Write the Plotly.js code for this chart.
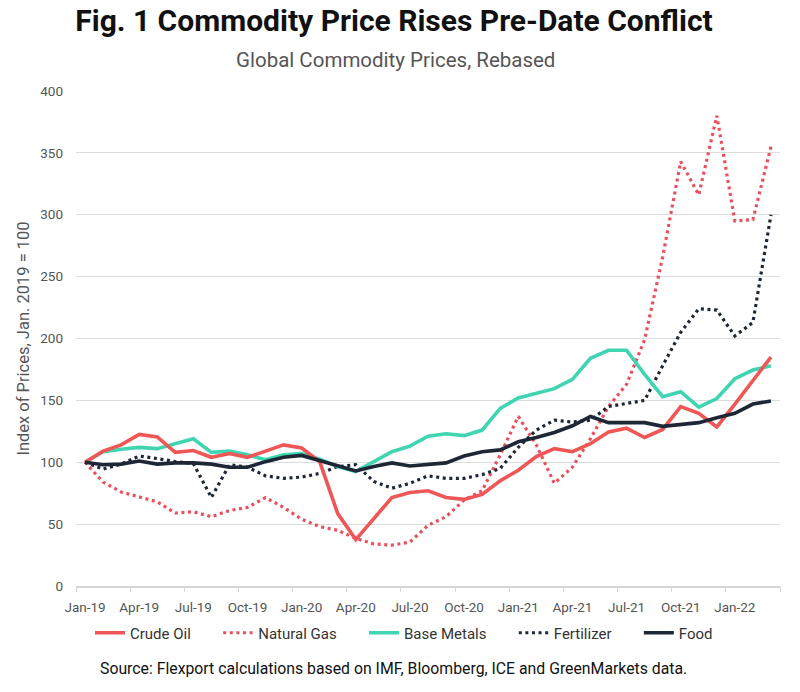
<!DOCTYPE html>
<html>
<head>
<meta charset="utf-8">
<script src="https://cdn.plot.ly/plotly-3.0.1.min.js"></script>
<style>
  html, body { margin: 0; padding: 0; background: #ffffff; }
  #chart { width: 800px; height: 692px; }
</style>
</head>
<body>
<div id="chart"></div>
<script>
// Monthly observations, Jan-19 through Mar-22
const months = [
  "Jan-19","Feb-19","Mar-19","Apr-19","May-19","Jun-19","Jul-19","Aug-19","Sep-19","Oct-19","Nov-19","Dec-19",
  "Jan-20","Feb-20","Mar-20","Apr-20","May-20","Jun-20","Jul-20","Aug-20","Sep-20","Oct-20","Nov-20","Dec-20",
  "Jan-21","Feb-21","Mar-21","Apr-21","May-21","Jun-21","Jul-21","Aug-21","Sep-21","Oct-21","Nov-21","Dec-21",
  "Jan-22","Feb-22","Mar-22"
];

// Index of prices, Jan. 2019 = 100
const crudeOil = [
  100, 109, 114, 122.5, 120.5, 108, 109.5, 104, 107, 104, 109, 114,
  111.5, 100.5, 58.5, 37.5, 54.5, 71.5, 75.5, 77, 71.5, 70, 74, 85,
  93.5, 104.5, 111, 108.5, 115, 124.5, 127.5, 120, 126.5, 145, 139.5, 128.5,
  147, 166, 185
];
const naturalGas = [
  100, 84, 76, 72, 68, 59, 60, 56, 61, 63.5, 71.5, 63.5,
  54, 48, 45, 38.5, 34, 33, 35.5, 49, 56, 69.5, 77, 106,
  137, 114, 83, 96, 119, 145, 163, 199, 266, 343, 316, 380,
  295, 296, 355
];
const baseMetals = [
  100, 108.5, 110.5, 112, 111, 115, 119, 108, 109, 106, 102, 106,
  107, 102.5, 96.5, 92.5, 100.5, 108.5, 113, 121, 123, 121.5, 126, 143.5,
  152, 156, 159.5, 167, 184, 190.5, 190.5, 171, 153, 157, 144.5, 151.5,
  167.5, 174.5, 178
];
const fertilizer = [
  100, 94.5, 98.5, 105, 103, 100.5, 99, 71.5, 98, 96, 89, 87,
  88, 91, 96.5, 98, 84.5, 79, 83, 89, 87, 87, 90, 95,
  112, 126, 134, 132.5, 134, 145, 147.5, 150, 178, 205, 224, 223,
  202, 213, 300
];
const food = [
  100, 98, 98.5, 101, 98.5, 99.5, 99.5, 98.5, 96, 96, 100.5, 104,
  105.5, 101.5, 97.5, 93, 96.5, 99.5, 97, 98.5, 99.5, 105, 108.5, 110,
  116.5, 120, 124, 129.5, 137, 132, 132, 132, 129, 130.5, 132, 136,
  139.5, 147, 149.5
];

// Quarterly tick labels on the x axis
const tickLabels = ["Jan-19","Apr-19","Jul-19","Oct-19","Jan-20","Apr-20","Jul-20","Oct-20","Jan-21","Apr-21","Jul-21","Oct-21","Jan-22"];
const yTicks = [0, 50, 100, 150, 200, 250, 300, 350, 400];

const idx = months.map((_, i) => i);
const tickPos = tickLabels.map(t => months.indexOf(t));
// small tick marks sit between the month slots
const tickMarks = [];
for (let v = -0.5; v <= months.length - 0.5; v += 3) tickMarks.push(v);

const RED = "#EF5656";
const GAS = "#E9505E";
const TEAL = "#3ED5B0";
const NAVY = "#1D2736";
const DOT = "3px,3.6px";

const series = [
  { name: "Crude Oil",   y: crudeOil,   color: RED,  dash: "solid", width: 3.6 },
  { name: "Natural Gas", y: naturalGas, color: GAS,  dash: DOT,     width: 3.2 },
  { name: "Base Metals", y: baseMetals, color: TEAL, dash: "solid", width: 3.6 },
  { name: "Fertilizer",  y: fertilizer, color: NAVY, dash: DOT,     width: 3.2 },
  { name: "Food",        y: food,       color: NAVY, dash: "solid", width: 3.6 }
];

// a little breathing room after each legend entry
const PAD = "\u00A0".repeat(6);

const traces = series.map((s, k) => ({
  type: "scatter",
  mode: "lines",
  name: s.name + (k < series.length - 1 ? PAD : ""),
  x: idx,
  y: s.y,
  text: months,
  hovertemplate: "%{text}: %{y}<extra>" + s.name + "</extra>",
  line: { color: s.color, width: s.width, dash: s.dash },
  legendrank: k + 1
}));

// Draw order: dotted series sit beneath the solid ones
const order = [1, 3, 2, 0, 4];
const data = order.map(i => traces[i]);

// invisible carrier for the offset tick marks
data.push({
  type: "scatter", mode: "none", x: [tickMarks[0]], y: [0],
  xaxis: "x2", yaxis: "y", showlegend: false, hoverinfo: "skip"
});

const FONT = "Roboto, 'Liberation Sans', sans-serif";
const axisGray = "#d6d6d6";

const layout = {
  width: 800,
  height: 692,
  margin: { l: 76, r: 20, t: 91, b: 106 },
  paper_bgcolor: "#ffffff",
  plot_bgcolor: "#ffffff",
  font: { family: FONT, color: "#555555", size: 13 },
  title: {
    text: "<b>Fig. 1 Commodity Price Rises Pre-Date Conflict</b>",
    font: { family: FONT, size: 30, color: "#111111" },
    x: 0.4925, xanchor: "center",
    y: 1 - 20 / 692, yanchor: "middle", yref: "container"
  },
  xaxis: {
    range: [-0.5, months.length - 0.5],
    tickmode: "array",
    tickvals: tickPos,
    ticktext: tickLabels,
    ticks: "",
    showgrid: false,
    zeroline: false,
    showline: true,
    linecolor: axisGray,
    linewidth: 1.5,
    tickfont: { family: FONT, size: 13.5, color: "#555555" },
    ticklabelstandoff: 8,
    fixedrange: true
  },
  xaxis2: {
    overlaying: "x",
    matches: "x",
    range: [-0.5, months.length - 0.5],
    tickmode: "array",
    tickvals: tickMarks,
    ticks: "outside",
    ticklen: 5,
    tickwidth: 1.2,
    tickcolor: axisGray,
    showticklabels: false,
    showgrid: false,
    zeroline: false,
    showline: false,
    side: "bottom",
    anchor: "y",
    fixedrange: true
  },
  yaxis: {
    range: [0, 400],
    tickmode: "array",
    tickvals: yTicks,
    showgrid: true,
    gridcolor: "#dcdcdc",
    gridwidth: 1.4,
    zeroline: false,
    showline: false,
    ticks: "",
    ticklabelstandoff: 12,
    tickfont: { family: FONT, size: 13.5, color: "#555555" },
    title: {
      text: "Index of Prices, Jan. 2019 = 100",
      font: { family: FONT, size: 16.5, color: "#555555" },
      standoff: 6
    },
    fixedrange: true
  },
  showlegend: true,
  legend: {
    orientation: "h",
    x: 14 / 704, xanchor: "left",
    y: (586 - 633) / 495, yanchor: "middle",
    font: { family: FONT, size: 15, color: "#333333" },
    traceorder: "normal",
    bgcolor: "rgba(0,0,0,0)"
  },
  annotations: [
    {
      text: "Global Commodity Prices, Rebased",
      xref: "paper", yref: "paper",
      x: (395 - 76) / 704, y: (586 - 60) / 495,
      xanchor: "center", yanchor: "middle",
      showarrow: false,
      font: { family: FONT, size: 20.5, color: "#555555" }
    },
    {
      text: "Source: Flexport calculations based on IMF, Bloomberg, ICE and GreenMarkets data.",
      xref: "paper", yref: "paper",
      x: (393 - 76) / 704, y: (586 - 668) / 495,
      xanchor: "center", yanchor: "middle",
      showarrow: false,
      font: { family: FONT, size: 15.8, color: "#111111" }
    }
  ],
  hovermode: "closest"
};

Plotly.newPlot("chart", data, layout, { displayModeBar: false });
</script>
</body>
</html>
